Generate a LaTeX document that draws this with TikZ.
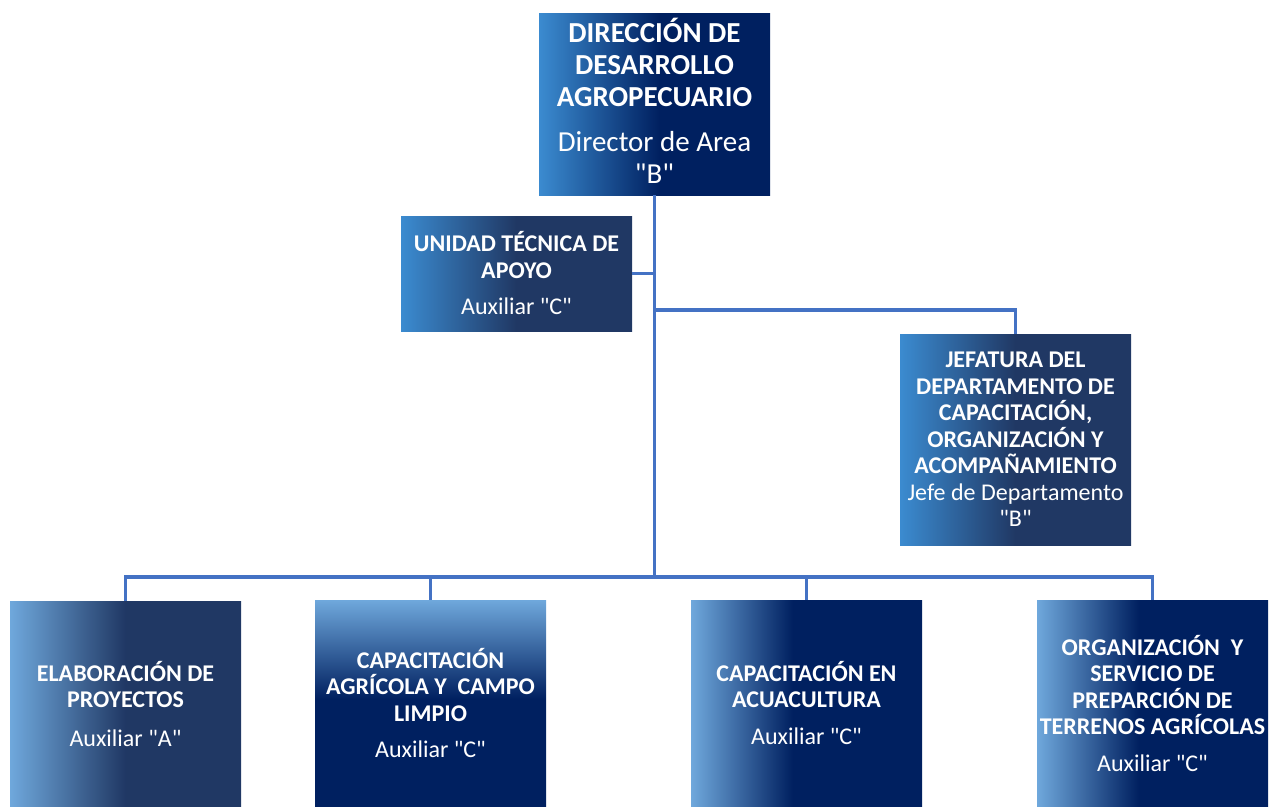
\documentclass[tikz,border=0pt]{standalone}
\usepackage{fontspec}
\setmainfont{Carlito}
\definecolor{lightA}{HTML}{3B8BD0}
\definecolor{lightB}{HTML}{6FA8DC}
\definecolor{navy}{HTML}{002060}
\definecolor{slate}{HTML}{203864}
\definecolor{conn}{HTML}{4472C4}
\pgfdeclarehorizontalshading{hAnavy}{100bp}{color(0bp)=(lightA); color(25bp)=(lightA); color(51bp)=(navy); color(100bp)=(navy)}
\pgfdeclarehorizontalshading{hAslate}{100bp}{color(0bp)=(lightA); color(25bp)=(lightA); color(50bp)=(slate); color(100bp)=(slate)}
\pgfdeclarehorizontalshading{hBslate}{100bp}{color(0bp)=(lightB); color(25bp)=(lightB); color(50bp)=(slate); color(100bp)=(slate)}
\pgfdeclarehorizontalshading{hBnavy}{100bp}{color(0bp)=(lightB); color(25bp)=(lightB); color(47bp)=(navy); color(100bp)=(navy)}
\pgfdeclareverticalshading{vBnavy}{100bp}{color(0bp)=(navy); color(51bp)=(navy); color(75bp)=(lightB); color(100bp)=(lightB)}
\newcommand{\qq}[1]{\textquotedbl#1\textquotedbl}
\tikzset{
  orgbox/.style={inner sep=0pt, text=white, align=center, minimum width=231pt, shading=#1},
  big/.style={font=\fontsize{29}{32}\selectfont},
  small/.style={font=\fontsize{24}{26.5}\selectfont},
  link/.style={draw=conn, line width=3.5pt}
}
\begin{document}
\begin{tikzpicture}[x=1pt,y=-1pt]
\useasboundingbox (0,0) rectangle (1269,806);

\node[orgbox=hAnavy, big, minimum height=182pt] (top) at (654.5,104)
  {{\bfseries DIRECCIÓN DE}\\{\bfseries DESARROLLO}\\{\bfseries AGROPECUARIO}\\[13pt]{Director de Area}\\{\qq{B}}\\[-26pt]\mbox{}};

\node[orgbox=hAslate, small, minimum height=115pt] (unidad) at (516.5,273.5)
  {{\bfseries UNIDAD TÉCNICA DE}\\{\bfseries APOYO}\\[10pt]{Auxiliar \qq{C}}};

\node[orgbox=hAslate, small, minimum height=211pt] (jef) at (1015.5,439.5)
  {{\bfseries JEFATURA DEL}\\{\bfseries DEPARTAMENTO DE}\\{\bfseries CAPACITACIÓN,}\\{\bfseries ORGANIZACIÓN Y}\\{\bfseries ACOMPAÑAMIENTO}\\{Jefe de Departamento}\\{\qq{B}}};

\node[orgbox=hBslate, small, minimum height=205pt] (elab) at (125.5,703.5)
  {{\bfseries ELABORACIÓN DE}\\{\bfseries PROYECTOS}\\[12pt]{Auxiliar \qq{A}}};

\node[orgbox=vBnavy, small, minimum height=206pt] (capag) at (430.5,703)
  {{\bfseries CAPACITACIÓN}\\{\bfseries AGRÍCOLA Y\ \ CAMPO}\\{\bfseries LIMPIO}\\[10pt]{Auxiliar \qq{C}}};

\node[orgbox=hBnavy, small, minimum height=206pt] (acua) at (806.5,703)
  {{\bfseries CAPACITACIÓN EN}\\{\bfseries ACUACULTURA}\\[10pt]{Auxiliar \qq{C}}};

\node[orgbox=hBnavy, small, minimum height=206pt] (org) at (1152.5,703)
  {{\bfseries ORGANIZACIÓN\ \ Y}\\{\bfseries SERVICIO DE}\\{\bfseries PREPARCIÓN DE}\\{\bfseries TERRENOS AGRÍCOLAS}\\[10pt]{Auxiliar \qq{C}}};

\coordinate (bus) at (654.5,577);
\coordinate (jb) at (654.5,310);

\draw[link] (top.south) -- (bus);
\draw[link] (unidad.east) -- (unidad.east -| top.south);
\draw[link] (jb) -| (jef.north);
\draw[link] (bus) -| (elab.north);
\draw[link] (bus) -| (capag.north);
\draw[link] (bus) -| (acua.north);
\draw[link] (bus) -| (org.north);
\end{tikzpicture}
\end{document}
